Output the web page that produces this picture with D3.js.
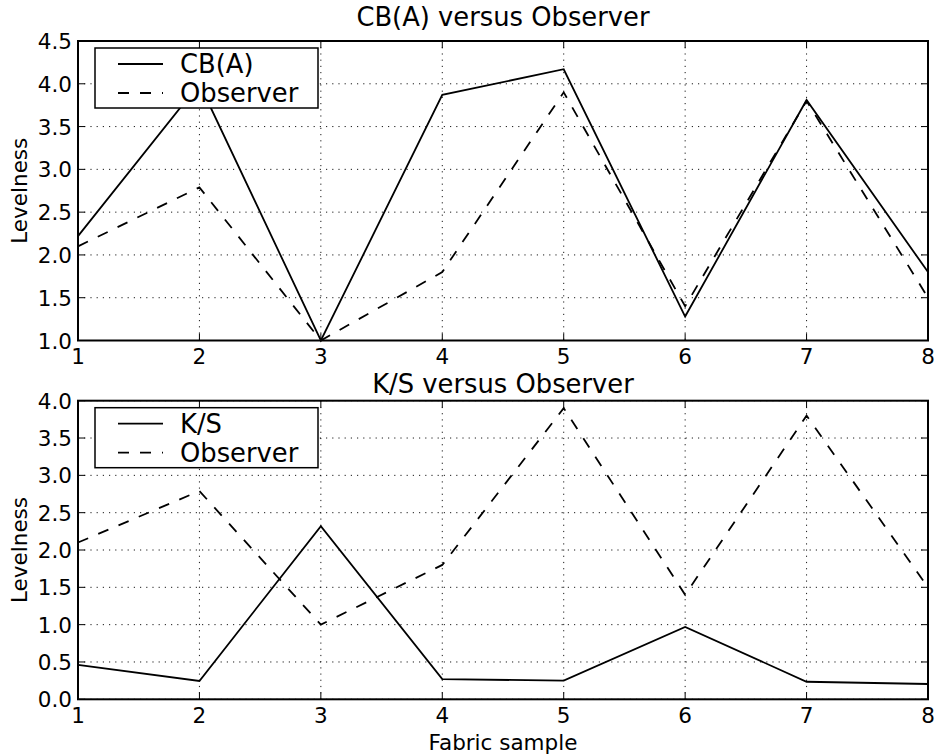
<!DOCTYPE html>
<html><head><meta charset="utf-8">
<script src="https://cdn.jsdelivr.net/npm/d3@7"></script>
<style>body{margin:0;background:#fff}svg{display:block}text{font-family:"DejaVu Sans",sans-serif;fill:#000}</style>
</head><body>
<svg id="c" width="935" height="755"></svg>
<script>
const samples = [1, 2, 3, 4, 5, 6, 7, 8];
const cbA = [2.22, 4.0, 1.0, 3.87, 4.17, 1.28, 3.81, 1.8];
const observer = [2.1, 2.79, 1.0, 1.8, 3.9, 1.4, 3.8, 1.5];
const ks = [0.46, 0.245, 2.32, 0.27, 0.25, 0.97, 0.235, 0.205];
const xTicks = [1, 2, 3, 4, 5, 6, 7, 8];
const yTicksTop = [1.0, 1.5, 2.0, 2.5, 3.0, 3.5, 4.0, 4.5];
const yTicksBottom = [0.0, 0.5, 1.0, 1.5, 2.0, 2.5, 3.0, 3.5, 4.0];

const svg = d3.select("#c");
const L = 78, R = 928;
const x = d3.scaleLinear().domain([1, 8]).range([L, R]);

function panel(cfg) {
  const y = d3.scaleLinear().domain(cfg.yDomain).range([cfg.bottom, cfg.top]);
  const g = svg.append("g");
  // grid
  g.selectAll(".gx").data(xTicks).join("line")
    .attr("x1", d => x(d)).attr("x2", d => x(d)).attr("y1", cfg.top).attr("y2", cfg.bottom)
    .attr("stroke", "#000").attr("stroke-width", 0.9).attr("stroke-dasharray", "1.2,5");
  g.selectAll(".gy").data(cfg.yTicks).join("line")
    .attr("x1", L).attr("x2", R).attr("y1", d => y(d)).attr("y2", d => y(d))
    .attr("stroke", "#000").attr("stroke-width", 0.9).attr("stroke-dasharray", "1.2,5");
  // lines
  const line = d3.line().x((d, i) => x(samples[i])).y(d => y(d));
  g.append("path").datum(cfg.s1).attr("d", line).attr("fill", "none")
    .attr("stroke", "#000").attr("stroke-width", 1.8).attr("stroke-linejoin", "miter");
  g.append("path").datum(observer).attr("d", line).attr("fill", "none")
    .attr("stroke", "#000").attr("stroke-width", 1.8).attr("stroke-dasharray", "11,11");
  // ticks inside (all four sides)
  const tl = 7;
  g.selectAll(".tb").data(xTicks).join("line")
    .attr("x1", d => x(d)).attr("x2", d => x(d)).attr("y1", cfg.bottom).attr("y2", cfg.bottom - tl)
    .attr("stroke", "#000").attr("stroke-width", 1);
  g.selectAll(".tt").data(xTicks).join("line")
    .attr("x1", d => x(d)).attr("x2", d => x(d)).attr("y1", cfg.top).attr("y2", cfg.top + tl)
    .attr("stroke", "#000").attr("stroke-width", 1);
  g.selectAll(".tl").data(cfg.yTicks).join("line")
    .attr("x1", L).attr("x2", L + tl).attr("y1", d => y(d)).attr("y2", d => y(d))
    .attr("stroke", "#000").attr("stroke-width", 1);
  g.selectAll(".tr").data(cfg.yTicks).join("line")
    .attr("x1", R).attr("x2", R - tl).attr("y1", d => y(d)).attr("y2", d => y(d))
    .attr("stroke", "#000").attr("stroke-width", 1);
  // spines
  g.append("rect").attr("x", L).attr("y", cfg.top).attr("width", R - L).attr("height", cfg.bottom - cfg.top)
    .attr("fill", "none").attr("stroke", "#000").attr("stroke-width", 2);
  // tick labels
  g.selectAll(".xl").data(xTicks).join("text")
    .attr("x", d => x(d)).attr("y", cfg.bottom + 23.5).attr("text-anchor", "middle")
    .attr("font-size", 21.5).text(d => d3.format("d")(d));
  g.selectAll(".yl").data(cfg.yTicks).join("text")
    .attr("x", L - 6).attr("y", d => y(d) + 8).attr("text-anchor", "end")
    .attr("font-size", 21.5).text(d => d3.format(".1f")(d));
  // title
  g.append("text").attr("x", (L + R) / 2).attr("y", cfg.titleY).attr("text-anchor", "middle")
    .attr("font-size", 25.8).text(cfg.title);
  // y label
  g.append("text").attr("transform", `translate(27,${(cfg.top + cfg.bottom) / 2}) rotate(-90)`)
    .attr("text-anchor", "middle").attr("font-size", 21.5).text("Levelness");
  // legend
  const lx = 95, ly = cfg.top + 7;
  g.append("rect").attr("x", lx).attr("y", ly).attr("width", 223).attr("height", 60)
    .attr("fill", "#fff").attr("stroke", "#000").attr("stroke-width", 1.5);
  const items = [{name: cfg.name1, dash: null}, {name: "Observer", dash: "11,11"}];
  items.forEach((it, i) => {
    const yy = ly + 16 + i * 29;
    const ln = g.append("line").attr("x1", lx + 23).attr("x2", lx + 68).attr("y1", yy).attr("y2", yy)
      .attr("stroke", "#000").attr("stroke-width", 1.8);
    if (it.dash) ln.attr("stroke-dasharray", it.dash);
    g.append("text").attr("x", lx + 85).attr("y", yy + 9).attr("font-size", 25.8).text(it.name);
  });
}

panel({top: 41, bottom: 340.5, yDomain: [1, 4.5], yTicks: yTicksTop, s1: cbA,
  title: "CB(A) versus Observer", titleY: 26, name1: "CB(A)"});
panel({top: 400.7, bottom: 699.3, yDomain: [0, 4], yTicks: yTicksBottom, s1: ks,
  title: "K/S versus Observer", titleY: 393, name1: "K/S"});

svg.append("text").attr("x", (L + R) / 2).attr("y", 750).attr("text-anchor", "middle")
  .attr("font-size", 21.5).text("Fabric sample");
</script>
</body></html>
